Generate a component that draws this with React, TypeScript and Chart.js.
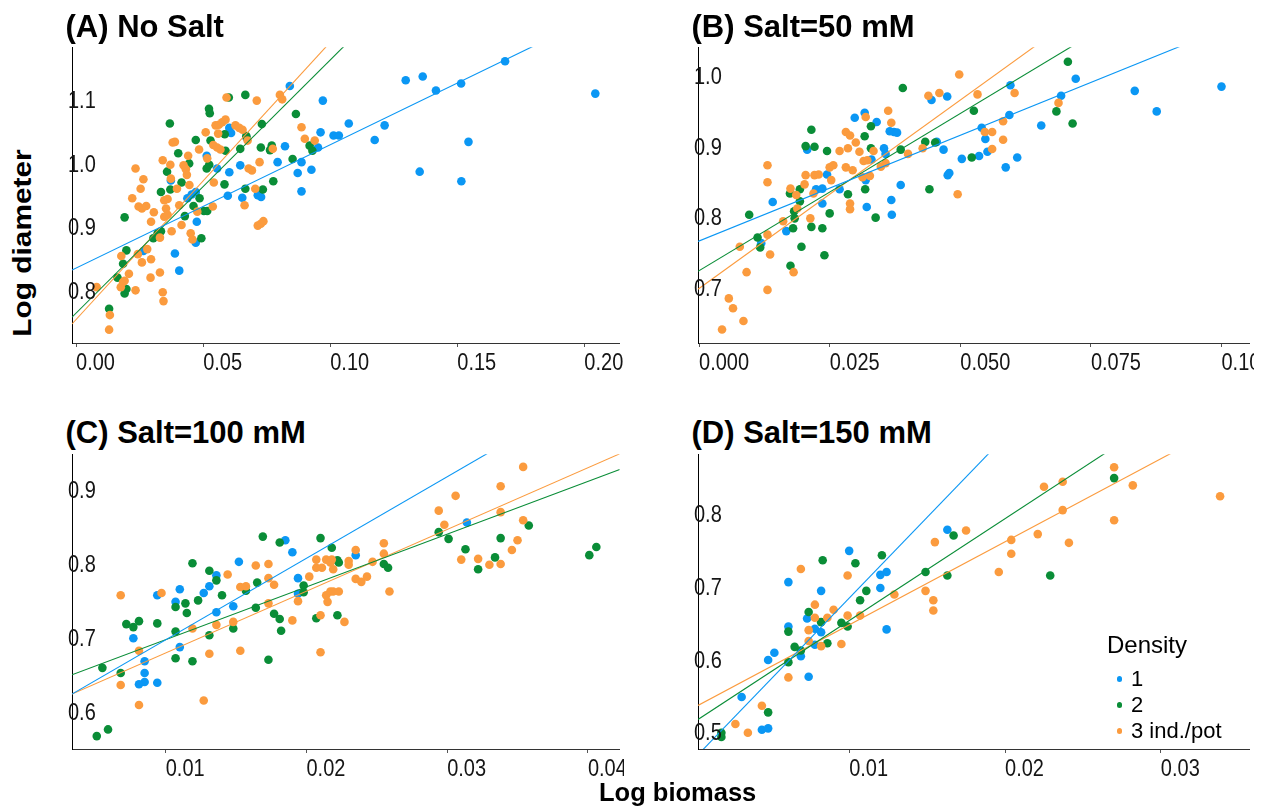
import React, { useEffect, useRef } from 'react';
import { Chart, registerables } from 'chart.js';

Chart.register(...registerables);

type Pt = [number, number];

// ---------------- data ----------------
const SERIES_NAMES = ['1', '2', '3 ind./pot'];
const LEGEND_TITLE = 'Density';
const X_TITLE = 'Log biomass';
const Y_TITLE = 'Log diameter';

// Panel A: No Salt
const A_D1: Pt[] = [
  [0.0265, 0.862], [0.0373, 0.973], [0.0389, 0.858], [0.0406, 0.831], [0.0438, 0.945], [0.0455, 0.951],
  [0.0471, 0.955], [0.0475, 0.908], [0.0471, 0.875], [0.0514, 1.012], [0.0555, 0.992], [0.0597, 0.949],
  [0.0603, 0.986], [0.0603, 1.056], [0.061, 1.048], [0.0646, 0.997], [0.0654, 0.946], [0.067, 1.041],
  [0.0715, 0.95], [0.0728, 0.947], [0.0793, 1.002], [0.0822, 1.027], [0.0841, 1.122], [0.0872, 0.985],
  [0.0887, 1.002], [0.0887, 0.956], [0.0926, 0.99], [0.0952, 1.025], [0.0962, 1.049], [0.0971, 1.099],
  [0.1013, 1.044], [0.1034, 1.044], [0.1073, 1.063], [0.1175, 1.037], [0.1214, 1.06], [0.1297, 1.131],
  [0.1364, 1.137], [0.1416, 1.115], [0.1515, 1.126], [0.1544, 1.034], [0.1352, 0.987], [0.1516, 0.972],
  [0.1688, 1.161], [0.2043, 1.11],
];
const A_D2: Pt[] = [
  [0.013, 0.771], [0.0163, 0.82], [0.0185, 0.842], [0.0198, 0.863], [0.0191, 0.915], [0.0191, 0.795],
  [0.0198, 0.802], [0.0304, 0.882], [0.0321, 0.89], [0.0334, 0.893], [0.0334, 0.955], [0.0358, 0.987],
  [0.0369, 1.063], [0.0371, 0.959], [0.0402, 1.016], [0.0415, 0.97], [0.0428, 0.917], [0.0445, 1.0],
  [0.0462, 0.933], [0.0471, 1.037], [0.0486, 0.945], [0.0493, 0.882], [0.0503, 0.925], [0.0516, 0.925],
  [0.0514, 0.992], [0.0524, 0.998], [0.0523, 1.086], [0.0526, 1.079], [0.0529, 1.036], [0.0584, 0.967],
  [0.0585, 1.046], [0.0588, 1.02], [0.0601, 1.104], [0.0646, 1.023], [0.0666, 1.108], [0.0666, 0.96],
  [0.067, 1.043], [0.0731, 1.062], [0.0727, 1.025], [0.0735, 0.959], [0.0763, 1.021], [0.077, 1.028],
  [0.0776, 0.972], [0.0852, 1.007], [0.0865, 1.078], [0.0919, 1.028], [0.093, 1.02],
];
const A_D3: Pt[] = [
  [0.0081, 0.805], [0.0133, 0.761], [0.013, 0.738], [0.0178, 0.854], [0.0176, 0.805], [0.0185, 0.813],
  [0.0191, 0.815], [0.0208, 0.826], [0.0234, 0.8], [0.0234, 0.992], [0.0221, 0.945], [0.0254, 0.96],
  [0.0265, 0.975], [0.0246, 0.932], [0.0259, 0.929], [0.0276, 0.933], [0.0243, 0.857], [0.0259, 0.844],
  [0.028, 0.865], [0.0295, 0.849], [0.0293, 0.82], [0.0306, 0.923], [0.0295, 0.908], [0.033, 0.828],
  [0.0341, 1.005], [0.0341, 0.797], [0.0344, 0.783], [0.033, 0.883], [0.0347, 0.942], [0.036, 0.944],
  [0.0354, 0.929], [0.0347, 0.916], [0.036, 0.919], [0.0373, 0.976], [0.0371, 0.998], [0.0376, 0.893],
  [0.038, 1.033], [0.0389, 1.034], [0.0397, 0.96], [0.0406, 0.934], [0.0415, 0.903], [0.0423, 0.997],
  [0.0432, 0.991], [0.0436, 0.982], [0.0441, 1.012], [0.0446, 0.966], [0.0451, 0.89], [0.0458, 0.88],
  [0.0477, 0.924], [0.0484, 1.022], [0.051, 1.049], [0.0516, 1.008], [0.0538, 0.932], [0.0542, 0.97],
  [0.054, 1.029], [0.0555, 1.025], [0.0568, 1.022], [0.0549, 1.06], [0.0562, 1.061], [0.0575, 1.065],
  [0.0588, 1.069], [0.0559, 1.047], [0.0592, 1.104], [0.0627, 1.06], [0.0642, 1.056], [0.0655, 1.053],
  [0.0675, 1.036], [0.0663, 0.934], [0.0679, 0.992], [0.0692, 0.989], [0.0705, 0.96], [0.0711, 1.099],
  [0.0722, 1.002], [0.0715, 0.902], [0.0727, 0.905], [0.0737, 0.909], [0.0774, 1.023], [0.0802, 1.108],
  [0.0811, 1.101], [0.0887, 1.057], [0.09, 1.039], [0.0939, 1.036],
];
const A_FIT_INTERCEPT = [0.835, 0.764, 0.754];
const A_FIT_SLOPE = [1.944, 3.99, 4.37];
const A_X_TICKS = [0, 0.05, 0.1, 0.15, 0.2];
const A_Y_TICKS = [0.8, 0.9, 1.0, 1.1];

// Panel B: Salt=50 mM
const B_D1: Pt[] = [
  [0.0119, 0.763], [0.0141, 0.821], [0.0167, 0.78], [0.0207, 0.895], [0.0224, 0.839], [0.0236, 0.84],
  [0.0236, 0.819], [0.0245, 0.86], [0.0269, 0.839], [0.0298, 0.94], [0.0317, 0.947], [0.0319, 0.852],
  [0.0321, 0.814], [0.033, 0.881], [0.034, 0.934], [0.0354, 0.897], [0.0357, 0.889], [0.0368, 0.824],
  [0.0369, 0.803], [0.0365, 0.921], [0.0373, 0.92], [0.0379, 0.919], [0.0386, 0.845], [0.0445, 0.965],
  [0.0455, 0.906], [0.0468, 0.895], [0.0475, 0.97], [0.0476, 0.859], [0.0479, 0.862], [0.0503, 0.882],
  [0.0536, 0.886], [0.0541, 0.926], [0.0548, 0.91], [0.0552, 0.892], [0.0587, 0.87], [0.0594, 0.944],
  [0.0596, 0.986], [0.0609, 0.884], [0.0693, 0.971], [0.0721, 0.995], [0.0655, 0.929], [0.0834, 0.978],
  [0.0876, 0.949], [0.1, 0.984],
];
const B_D2: Pt[] = [
  [0.0096, 0.803], [0.0112, 0.771], [0.0117, 0.757], [0.0175, 0.731], [0.0174, 0.833], [0.0182, 0.808],
  [0.0183, 0.798], [0.018, 0.784], [0.0193, 0.839], [0.0193, 0.822], [0.0196, 0.758], [0.0215, 0.923],
  [0.0204, 0.9], [0.0221, 0.899], [0.0215, 0.786], [0.0236, 0.784], [0.024, 0.746], [0.0245, 0.893],
  [0.025, 0.805], [0.0285, 0.832], [0.0317, 0.914], [0.0318, 0.839], [0.0329, 0.928], [0.0329, 0.897],
  [0.0338, 0.799], [0.0386, 0.895], [0.039, 0.982], [0.0433, 0.906], [0.0441, 0.839], [0.0452, 0.905],
  [0.0522, 0.884], [0.0526, 0.95], [0.0706, 1.019], [0.0684, 0.949], [0.0715, 0.932],
];
const B_D3: Pt[] = [
  [0.0044, 0.641], [0.0057, 0.685], [0.0065, 0.671], [0.0085, 0.653], [0.0091, 0.722], [0.0078, 0.758],
  [0.0131, 0.697], [0.0131, 0.775], [0.0136, 0.747], [0.0131, 0.849], [0.0131, 0.873], [0.0161, 0.794],
  [0.0175, 0.84], [0.0186, 0.831], [0.0181, 0.722], [0.0188, 0.812], [0.0202, 0.846], [0.0204, 0.859],
  [0.0213, 0.798], [0.0219, 0.833], [0.0221, 0.859], [0.0229, 0.86], [0.025, 0.87], [0.0257, 0.873],
  [0.0253, 0.852], [0.0269, 0.893], [0.0281, 0.92], [0.0289, 0.915], [0.0285, 0.897], [0.0281, 0.87],
  [0.0294, 0.866], [0.03, 0.905], [0.0307, 0.892], [0.0289, 0.819], [0.0289, 0.811], [0.0313, 0.856],
  [0.0315, 0.879], [0.0322, 0.88], [0.0319, 0.941], [0.0327, 0.858], [0.0334, 0.893], [0.0362, 0.95],
  [0.0368, 0.933], [0.0348, 0.871], [0.0357, 0.876], [0.04, 0.889], [0.0428, 0.897], [0.0439, 0.971],
  [0.046, 0.975], [0.0498, 1.001], [0.0495, 0.832], [0.0533, 0.973], [0.0547, 0.92], [0.0561, 0.92],
  [0.0561, 0.896], [0.0582, 0.935], [0.0582, 0.909], [0.0604, 0.975], [0.0688, 0.961],
];
const B_FIT_INTERCEPT = [0.766, 0.724, 0.699];
const B_FIT_SLOPE = [2.985, 4.44, 5.32];
const B_X_TICKS = [0, 0.025, 0.05, 0.075, 0.1];
const B_Y_TICKS = [0.7, 0.8, 0.9, 1.0];

// Panel C: Salt=100 mM
const C_D1: Pt[] = [
  [0.0077, 0.699], [0.0085, 0.668], [0.0085, 0.652], [0.0085, 0.64], [0.0081, 0.637], [0.0094, 0.639],
  [0.0094, 0.757], [0.0107, 0.748], [0.011, 0.765], [0.011, 0.687], [0.0127, 0.76], [0.0131, 0.769],
  [0.0136, 0.784], [0.0136, 0.734], [0.0148, 0.742], [0.0152, 0.802], [0.0185, 0.831], [0.019, 0.815],
  [0.0194, 0.78], [0.0194, 0.759], [0.0235, 0.811], [0.0314, 0.855],
];
const C_D2: Pt[] = [
  [0.0051, 0.567], [0.0059, 0.576], [0.0055, 0.659], [0.0068, 0.652], [0.0072, 0.718], [0.0077, 0.714],
  [0.0081, 0.722], [0.0094, 0.719], [0.0107, 0.741], [0.0107, 0.708], [0.0107, 0.672], [0.0114, 0.746],
  [0.0115, 0.733], [0.0119, 0.668], [0.0119, 0.8], [0.0123, 0.75], [0.0131, 0.79], [0.0131, 0.703],
  [0.0136, 0.777], [0.014, 0.757], [0.0148, 0.712], [0.0157, 0.763], [0.0164, 0.74], [0.0165, 0.774],
  [0.0169, 0.836], [0.0173, 0.67], [0.0177, 0.732], [0.0181, 0.828], [0.0181, 0.725], [0.0182, 0.709],
  [0.0198, 0.77], [0.0198, 0.761], [0.0207, 0.726], [0.021, 0.834], [0.0218, 0.821], [0.0222, 0.73],
  [0.0222, 0.804], [0.0223, 0.801], [0.0255, 0.799], [0.0258, 0.794], [0.0294, 0.842], [0.0301, 0.833],
  [0.0313, 0.819], [0.0322, 0.792], [0.0334, 0.808], [0.0338, 0.834], [0.0358, 0.851], [0.0401, 0.811],
  [0.0406, 0.822],
];
const C_D3: Pt[] = [
  [0.0068, 0.636], [0.0068, 0.757], [0.0081, 0.682], [0.0081, 0.609], [0.0097, 0.76], [0.0119, 0.712],
  [0.0127, 0.615], [0.0131, 0.678], [0.0136, 0.717], [0.0144, 0.785], [0.0148, 0.721], [0.0153, 0.682],
  [0.0153, 0.768], [0.0157, 0.769], [0.0164, 0.797], [0.0173, 0.799], [0.0173, 0.78], [0.0173, 0.746],
  [0.0177, 0.771], [0.019, 0.723], [0.0194, 0.749], [0.0202, 0.782], [0.021, 0.73], [0.021, 0.68],
  [0.0207, 0.805], [0.0207, 0.794], [0.0211, 0.794], [0.0214, 0.805], [0.0217, 0.801], [0.0218, 0.805],
  [0.0219, 0.792], [0.0214, 0.757], [0.0215, 0.748], [0.0217, 0.762], [0.0219, 0.762], [0.0223, 0.762],
  [0.0227, 0.721], [0.023, 0.803], [0.023, 0.798], [0.0235, 0.818], [0.0235, 0.779], [0.0239, 0.775],
  [0.0243, 0.782], [0.0247, 0.802], [0.0255, 0.827], [0.0255, 0.813], [0.0259, 0.762], [0.0294, 0.871],
  [0.0298, 0.852], [0.0306, 0.891], [0.031, 0.805], [0.0322, 0.806], [0.033, 0.798], [0.0338, 0.904],
  [0.0338, 0.869], [0.0338, 0.799], [0.0346, 0.818], [0.035, 0.831], [0.0354, 0.93], [0.0354, 0.858],
];
const C_FIT_INTERCEPT = [0.587, 0.626, 0.596];
const C_FIT_SLOPE = [10.99, 7.11, 8.32];
const C_X_TICKS = [0.01, 0.02, 0.03, 0.04];
const C_Y_TICKS = [0.6, 0.7, 0.8, 0.9];

// Panel D: Salt=150 mM
const D_D1: Pt[] = [
  [0.0031, 0.548], [0.0044, 0.503], [0.0048, 0.505], [0.0048, 0.599], [0.0052, 0.609], [0.0061, 0.706],
  [0.0061, 0.645], [0.0069, 0.604], [0.0073, 0.656], [0.0074, 0.576], [0.0078, 0.642], [0.0078, 0.62],
  [0.0082, 0.694], [0.0082, 0.637], [0.012, 0.716], [0.012, 0.698], [0.0124, 0.72], [0.0124, 0.641],
  [0.01, 0.749], [0.0163, 0.778],
];
const D_D2: Pt[] = [
  [0.0018, 0.499], [0.0018, 0.493], [0.0048, 0.527], [0.0061, 0.638], [0.0061, 0.596], [0.0065, 0.617],
  [0.0069, 0.612], [0.0074, 0.665], [0.0082, 0.651], [0.0086, 0.622], [0.0095, 0.65], [0.0099, 0.645],
  [0.0107, 0.681], [0.0111, 0.694], [0.0149, 0.72], [0.0083, 0.736], [0.0104, 0.732], [0.0121, 0.743],
  [0.0163, 0.715], [0.0167, 0.77], [0.0229, 0.715], [0.027, 0.849],
];
const D_D3: Pt[] = [
  [0.0027, 0.511], [0.0035, 0.499], [0.0044, 0.536], [0.0061, 0.575], [0.0069, 0.724], [0.0074, 0.64],
  [0.0074, 0.625], [0.0078, 0.675], [0.0078, 0.657], [0.0082, 0.618], [0.0086, 0.657], [0.009, 0.668],
  [0.0095, 0.621], [0.0099, 0.715], [0.0099, 0.66], [0.0107, 0.66], [0.0129, 0.689], [0.0149, 0.694],
  [0.0154, 0.681], [0.0154, 0.667], [0.0155, 0.761], [0.0175, 0.777], [0.0196, 0.72], [0.0204, 0.764],
  [0.0204, 0.745], [0.0221, 0.772], [0.0225, 0.837], [0.0237, 0.844], [0.0237, 0.805], [0.0241, 0.76],
  [0.027, 0.864], [0.027, 0.791], [0.0282, 0.839], [0.0338, 0.824],
];
const D_FIT_INTERCEPT = [0.462, 0.513, 0.533];
const D_FIT_SLOPE = [22.2, 14.01, 11.42];
const D_X_TICKS = [0.01, 0.02, 0.03];
const D_Y_TICKS = [0.5, 0.6, 0.7, 0.8];

// ---------------- styling / layout ----------------
const COLORS = ['#0B97F4', '#0A8D37', '#FB9B3E'];
const TEXT_FONT = '"Liberation Sans", Arial, Helvetica, sans-serif';
const TICK_FONT = '20px "Liberation Sans", Arial, sans-serif';
const TICK_STRETCH_Y = 1.17;
const TICK_COLOR = '#151515';
const Y_AXIS_W = 12;
const X_AXIS_H = 46;

interface PanelDef {
  title: string;
  series: Pt[][];
  intercept: number[];
  slope: number[];
  xMin: number; xMax: number; yMin: number; yMax: number;
  xTicks: number[]; yTicks: number[]; xDec: number;
  area: { l: number; t: number; r: number; b: number };
  titlePos: { left: number; top: number };
}

const PANELS: PanelDef[] = [
  {
    title: '(A) No Salt', series: [A_D1, A_D2, A_D3], intercept: A_FIT_INTERCEPT, slope: A_FIT_SLOPE,
    xMin: -0.0016, xMax: 0.2139, yMin: 0.717, yMax: 1.183, xTicks: A_X_TICKS, yTicks: A_Y_TICKS, xDec: 2,
    area: { l: 72, t: 43, r: 624, b: 343 }, titlePos: { left: 65.5, top: 10.5 },
  },
  {
    title: '(B) Salt=50 mM', series: [B_D1, B_D2, B_D3], intercept: B_FIT_INTERCEPT, slope: B_FIT_SLOPE,
    xMin: -0.0002, xMax: 0.1054, yMin: 0.622, yMax: 1.0395, xTicks: B_X_TICKS, yTicks: B_Y_TICKS, xDec: 3,
    area: { l: 698, t: 43, r: 1254, b: 343 }, titlePos: { left: 691.5, top: 10.5 },
  },
  {
    title: '(C) Salt=100 mM', series: [C_D1, C_D2, C_D3], intercept: C_FIT_INTERCEPT, slope: C_FIT_SLOPE,
    xMin: 0.00334, xMax: 0.04226, yMin: 0.5496, yMax: 0.947, xTicks: C_X_TICKS, yTicks: C_Y_TICKS, xDec: 2,
    area: { l: 72, t: 450, r: 624, b: 749 }, titlePos: { left: 65.5, top: 416.5 },
  },
  {
    title: '(D) Salt=150 mM', series: [D_D1, D_D2, D_D3], intercept: D_FIT_INTERCEPT, slope: D_FIT_SLOPE,
    xMin: 0.0003, xMax: 0.0357, yMin: 0.4766, yMax: 0.8817, xTicks: D_X_TICKS, yTicks: D_Y_TICKS, xDec: 2,
    area: { l: 698, t: 450, r: 1254, b: 749 }, titlePos: { left: 691.5, top: 416.5 },
  },
];

function zeroPad(s: any) {
  s.paddingLeft = 0;
  s.paddingRight = 0;
  s.paddingTop = 0;
  s.paddingBottom = 0;
}

// Draws the scales' own tick labels (value/label from the scale) with the
// reference's slightly tall lettering.
const tallTickLabels = {
  id: 'tallTickLabels',
  afterDraw(chart: any) {
    const ctx = chart.ctx;
    const xs = chart.scales.x;
    const ys = chart.scales.y;
    ctx.save();
    ctx.font = TICK_FONT;
    ctx.fillStyle = TICK_COLOR;
    ctx.textAlign = 'left';
    ctx.textBaseline = 'alphabetic';
    xs.ticks.forEach((t: any) => {
      const px = xs.getPixelForValue(t.value);
      ctx.save();
      ctx.translate(px, xs.top + 26.7);
      ctx.scale(1, TICK_STRETCH_Y);
      ctx.fillText(String(t.label), 0, 0);
      ctx.restore();
    });
    ys.ticks.forEach((t: any) => {
      const py = ys.getPixelForValue(t.value);
      ctx.save();
      ctx.translate(ys.right - 4, py + 8.4);
      ctx.scale(1, TICK_STRETCH_Y);
      ctx.fillText(String(t.label), 0, 0);
      ctx.restore();
    });
    ctx.restore();
  },
};

function Panel({ def }: { def: PanelDef }) {
  const ref = useRef<HTMLCanvasElement>(null);
  const w = def.area.r - def.area.l + Y_AXIS_W;
  const h = def.area.b - def.area.t + X_AXIS_H;

  useEffect(() => {
    const canvas = ref.current;
    if (!canvas) return;

    const fitSets = def.intercept.map((a, i) => {
      const b = def.slope[i];
      return {
        label: 'fit ' + SERIES_NAMES[i],
        data: [
          { x: def.xMin, y: a + b * def.xMin },
          { x: def.xMax, y: a + b * def.xMax },
        ],
        showLine: true,
        borderColor: COLORS[i],
        backgroundColor: COLORS[i],
        borderWidth: 1.1,
        pointRadius: 0,
        pointHoverRadius: 0,
        clip: 0,
        order: 0,
      };
    });
    const pointSets = def.series.map((s, i) => ({
      label: SERIES_NAMES[i],
      data: s.map(([x, y]) => ({ x, y })),
      backgroundColor: COLORS[i],
      borderColor: COLORS[i],
      borderWidth: 0,
      pointRadius: 4.3,
      pointHoverRadius: 4.3,
      showLine: false,
      order: 3 - i,
    }));

    const chart = new Chart(canvas, {
      type: 'scatter',
      data: { datasets: [...fitSets, ...pointSets] as any },
      plugins: [tallTickLabels],
      options: {
        animation: false,
        responsive: false,
        devicePixelRatio: 1,
        events: [],
        layout: { padding: 0 },
        plugins: {
          legend: { display: false },
          tooltip: { enabled: false },
          title: { display: false },
        },
        scales: {
          x: {
            type: 'linear',
            min: def.xMin,
            max: def.xMax,
            afterBuildTicks: (scale: any) => {
              scale.ticks = def.xTicks.map((v) => ({ value: v }));
            },
            afterFit: (scale: any) => {
              scale.height = X_AXIS_H;
              zeroPad(scale);
            },
            grid: {
              display: true,
              drawOnChartArea: false,
              drawTicks: true,
              tickLength: 4,
              color: '#555',
              lineWidth: 1,
            },
            border: { display: true, color: '#333', width: 1 },
            ticks: {
              display: false,
              maxRotation: 0,
              minRotation: 0,
              autoSkip: false,
              callback: (v: any) => Number(v).toFixed(def.xDec),
            },
          },
          y: {
            type: 'linear',
            min: def.yMin,
            max: def.yMax,
            afterBuildTicks: (scale: any) => {
              scale.ticks = def.yTicks.map((v) => ({ value: v }));
            },
            afterFit: (scale: any) => {
              scale.width = Y_AXIS_W;
              zeroPad(scale);
            },
            grid: { display: false },
            border: { display: true, color: '#000', width: 1 },
            ticks: {
              display: false,
              autoSkip: false,
              callback: (v: any) => Number(v).toFixed(1),
            },
          },
        },
      } as any,
    });
    return () => chart.destroy();
  }, [def]);

  return (
    <canvas
      ref={ref}
      width={w}
      height={h}
      style={{
        position: 'absolute',
        left: def.area.l - Y_AXIS_W,
        top: def.area.t,
        width: w,
        height: h,
      }}
    />
  );
}

const LEGEND_ROWS_Y = [679, 705, 731];

export default function App() {
  return (
    <div
      style={{
        position: 'absolute',
        left: 0,
        top: 0,
        width: 1266,
        height: 811,
        background: '#ffffff',
        overflow: 'hidden',
        color: '#000',
      }}
    >
      {PANELS.map((p) => (
        <Panel key={p.title} def={p} />
      ))}
      {PANELS.map((p) => (
        <div
          key={'t' + p.title}
          style={{
            position: 'absolute',
            left: p.titlePos.left,
            top: p.titlePos.top,
            font: `bold 31px ${TEXT_FONT}`,
            lineHeight: '31px',
            whiteSpace: 'nowrap',
          }}
        >
          {p.title}
        </div>
      ))}
      <div
        style={{
          position: 'absolute',
          left: 23.4,
          top: 242.5,
          font: `bold 25.5px ${TEXT_FONT}`,
          lineHeight: '25.5px',
          whiteSpace: 'nowrap',
          transform: 'translate(-50%, -50%) rotate(-90deg) scaleX(1.17)',
        }}
      >
        {Y_TITLE}
      </div>
      <div
        style={{
          position: 'absolute',
          left: 599,
          top: 780,
          font: `bold 25.5px ${TEXT_FONT}`,
          lineHeight: '25.5px',
          whiteSpace: 'nowrap',
        }}
      >
        {X_TITLE}
      </div>
      <div
        style={{
          position: 'absolute',
          left: 1107,
          top: 632.5,
          font: `24px ${TEXT_FONT}`,
          lineHeight: '24px',
          whiteSpace: 'nowrap',
        }}
      >
        {LEGEND_TITLE}
      </div>
      {SERIES_NAMES.map((name, i) => (
        <React.Fragment key={'lg' + name}>
          <div
            style={{
              position: 'absolute',
              left: 1119.5 - 2.9,
              top: LEGEND_ROWS_Y[i] - 2.9,
              width: 5.8,
              height: 5.8,
              borderRadius: '50%',
              background: COLORS[i],
            }}
          />
          <div
            style={{
              position: 'absolute',
              left: 1131,
              top: LEGEND_ROWS_Y[i] - 10.7,
              font: `22px ${TEXT_FONT}`,
              lineHeight: '22px',
              whiteSpace: 'nowrap',
            }}
          >
            {name}
          </div>
        </React.Fragment>
      ))}
    </div>
  );
}
